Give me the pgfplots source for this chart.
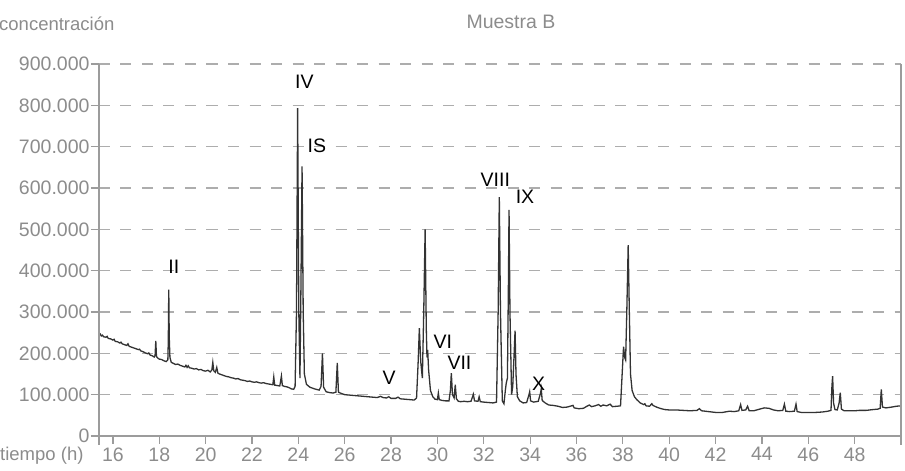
\documentclass[border=0pt]{standalone}
\usepackage{pgfplots}
\pgfplotsset{compat=1.18}
\usepackage{fontspec}
\setmainfont{Liberation Sans}
\definecolor{tickgray}{HTML}{8C8C8C}
\definecolor{gridgray}{HTML}{ADADAD}
\definecolor{axisgray}{HTML}{9C9C9C}
\definecolor{trace}{HTML}{333333}

\begin{document}
\begin{tikzpicture}[font=\fontsize{19.5}{21}\selectfont]
\begin{axis}[
  scale only axis, width=802pt, height=372pt,
  xmin=15.4, xmax=50, ymin=0, ymax=900,
  xtick={16,18,...,48},
  xticklabels={16,18,20,22,24,26,28,30,32,34,36,38,40,42,44,46,48},
  ytick={0,100,...,900},
  yticklabels={0,100.000,200.000,300.000,400.000,500.000,600.000,700.000,800.000,900.000},
  ymajorgrids,
  grid style={gridgray, line width=1.2pt, dash pattern=on 11pt off 10.5pt},
  axis line style={draw=none},
  tick pos=left, tick align=outside,
  major tick length=8pt,
  tick style={axisgray, line width=1.2pt},
  tick label style={tickgray, font=\fontsize{19.5}{21}\selectfont},
  yticklabel style={xshift=2pt},
  clip=false,
]
\addplot[trace, line width=1.3pt] coordinates {
(15.40,245) (15.45,247) (15.50,242) (15.55,244) (15.60,240) (15.70,239) (15.75,241)
(15.80,236) (15.90,235) (16.00,232) (16.05,234) (16.10,229) (16.20,228) (16.30,225)
(16.35,227) (16.40,223) (16.50,221) (16.60,219) (16.65,223) (16.70,217) (16.80,215)
(16.90,213) (17.00,211) (17.10,209) (17.15,210) (17.20,206) (17.30,204) (17.40,201)
(17.50,199) (17.55,201) (17.60,196) (17.70,194) (17.78,191) (17.82,195) (17.85,230)
(17.88,192) (17.95,188) (18.00,186) (18.10,185) (18.20,182) (18.30,180) (18.37,184)
(18.39,230) (18.41,354) (18.43,240) (18.46,190) (18.52,178) (18.60,176) (18.70,173)
(18.80,174) (18.90,171) (19.00,169) (19.10,167) (19.15,171) (19.20,166) (19.25,170)
(19.30,165) (19.40,164) (19.50,162) (19.60,163) (19.70,160) (19.80,161) (19.90,158)
(20.00,157) (20.10,159) (20.20,155) (20.27,160) (20.31,178) (20.35,158) (20.42,154)
(20.48,166) (20.53,152) (20.60,150) (20.70,148) (20.80,146) (20.90,144) (21.00,143)
(21.10,141) (21.20,140) (21.30,138) (21.40,139) (21.50,136) (21.60,135) (21.70,134)
(21.80,132) (21.90,133) (22.00,131) (22.10,130) (22.20,131) (22.30,129) (22.40,128)
(22.50,129) (22.60,127) (22.70,126) (22.80,125) (22.90,124) (22.94,143) (22.98,123)
(23.10,122) (23.20,121) (23.27,145) (23.31,122) (23.40,120) (23.50,119) (23.60,117)
(23.70,114) (23.80,113) (23.86,120) (23.92,300) (23.97,793) (24.02,300) (24.07,140)
(24.11,350) (24.16,652) (24.21,300) (24.26,150) (24.35,125) (24.50,118) (24.70,114)
(24.90,111) (24.98,120) (25.04,200) (25.09,118) (25.20,107) (25.35,105) (25.50,104)
(25.62,106) (25.68,177) (25.73,106) (25.85,103) (26.00,100) (26.20,99) (26.40,98)
(26.60,97) (26.80,96) (27.00,95) (27.20,94) (27.40,93) (27.55,96) (27.65,93)
(27.80,92) (27.90,95) (28.00,91) (28.20,91) (28.30,94) (28.40,90) (28.60,89)
(28.80,88) (29.00,87) (29.10,92) (29.17,180) (29.22,261) (29.28,180) (29.35,140)
(29.41,300) (29.47,500) (29.52,260) (29.55,190) (29.58,208) (29.62,160) (29.70,110)
(29.80,95) (29.90,89) (30.00,88) (30.04,104) (30.08,88) (30.20,86) (30.35,85)
(30.50,85) (30.56,110) (30.60,152) (30.65,100) (30.72,92) (30.77,124) (30.82,90)
(30.90,84) (31.00,83) (31.15,84) (31.30,83) (31.45,84) (31.55,101) (31.60,85)
(31.75,84) (31.80,95) (31.85,83) (32.00,82) (32.20,81) (32.40,80) (32.55,82)
(32.62,300) (32.67,578) (32.72,300) (32.80,85) (32.87,78) (32.93,110) (32.97,128)
(33.02,140) (33.06,350) (33.09,547) (33.13,300) (33.20,100) (33.25,120) (33.31,200)
(33.35,255) (33.39,150) (33.45,95) (33.55,85) (33.70,80) (33.85,81) (33.95,100)
(33.98,107) (34.02,85) (34.15,82) (34.35,84) (34.45,104) (34.48,114) (34.52,86)
(34.65,80) (34.80,75) (35.00,74) (35.20,72) (35.40,69) (35.60,70) (35.85,74)
(35.90,68) (36.10,66) (36.30,67) (36.45,72) (36.55,75) (36.65,71) (36.80,73)
(36.95,76) (37.05,72) (37.15,75) (37.30,73) (37.45,77) (37.55,71) (37.75,72)
(37.90,73) (37.97,150) (38.03,216) (38.08,190) (38.12,184) (38.17,300) (38.23,462)
(38.28,300) (38.33,150) (38.40,110) (38.50,95) (38.60,88) (38.75,80) (38.90,76)
(38.95,78) (39.00,73) (39.15,72) (39.25,78) (39.30,74) (39.45,70) (39.60,67)
(39.80,64) (40.00,63) (40.30,63) (40.60,62) (40.90,61) (41.20,62) (41.30,66)
(41.40,61) (41.70,59) (42.00,57) (42.30,57) (42.60,60) (42.80,59) (43.00,61)
(43.08,76) (43.14,62) (43.30,63) (43.38,72) (43.45,61) (43.65,61) (43.90,65)
(44.10,68) (44.30,67) (44.50,63) (44.70,61) (44.90,62) (44.97,77) (45.03,60)
(45.20,59) (45.40,60) (45.47,77) (45.52,59) (45.70,57) (46.00,57) (46.30,57)
(46.60,58) (46.85,60) (46.98,62) (47.02,120) (47.05,145) (47.09,80) (47.15,64)
(47.25,63) (47.33,80) (47.38,105) (47.43,65) (47.55,61) (47.80,61) (48.00,61)
(48.20,62) (48.50,62) (48.80,64) (49.00,65) (49.10,67) (49.15,113) (49.20,70)
(49.35,68) (49.60,70) (49.80,72) (50.00,73)
};
\node at (axis cs:18.63,409) {II};
\node at (axis cs:24.26,857) {IV};
\node at (axis cs:24.80,702) {IS};
\node at (axis cs:27.92,140) {V};
\node at (axis cs:30.23,227) {VI};
\node at (axis cs:30.95,176) {VII};
\node at (axis cs:32.50,619) {VIII};
\node at (axis cs:33.78,579) {IX};
\node at (axis cs:34.37,127) {X};
\end{axis}
\draw[axisgray, line width=1.2pt] (current axis.north west) -- ([yshift=-9pt]current axis.south west);
\draw[axisgray, line width=1.2pt] (current axis.north east) -- ([yshift=-9pt]current axis.south east);
\draw[axisgray, line width=1.2pt] (current axis.south west) -- (current axis.south east);
\node[anchor=base west, tickgray, inner sep=0pt, font=\fontsize{18.5}{20}\selectfont] at ([xshift=-99pt, yshift=-25pt]current axis.south west) {tiempo (h)};
\node[anchor=base west, tickgray, inner sep=0pt, font=\fontsize{18.5}{20}\selectfont] at ([xshift=-100pt, yshift=33pt]current axis.north west) {concentración};
\node[anchor=base, tickgray, inner sep=0pt] at ([xshift=412pt, yshift=35.5pt]current axis.north west) {Muestra B};
\pgfresetboundingbox
\path ([xshift=-99pt, yshift=-35pt]current axis.south west) rectangle ([xshift=4pt, yshift=64pt]current axis.north east);
\end{tikzpicture}
\end{document}
